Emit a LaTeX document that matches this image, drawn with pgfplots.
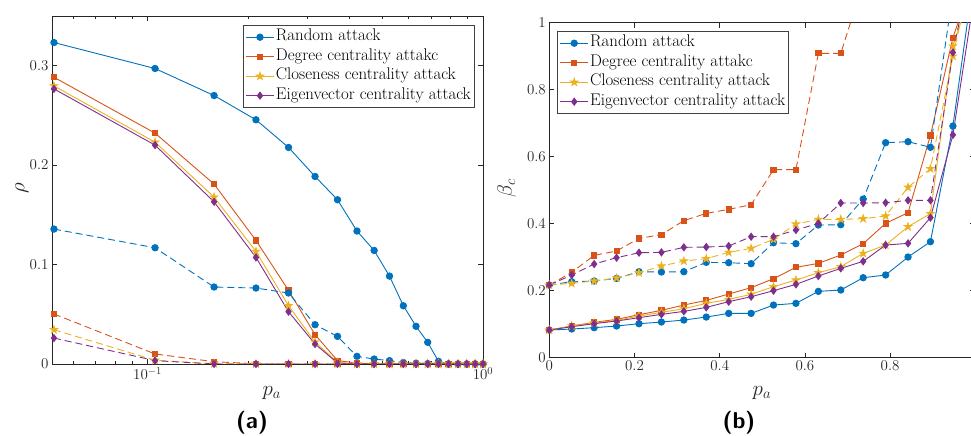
\RequirePackage{fix-cm}
\documentclass[border=0pt]{standalone}
\usepackage{pgfplots}
\usepackage{pgfplotstable}
\pgfplotsset{compat=1.18}

\definecolor{mblue}{rgb}{0,0.447,0.741}
\definecolor{morange}{rgb}{0.850,0.325,0.098}
\definecolor{myellow}{rgb}{0.929,0.694,0.125}
\definecolor{mpurple}{rgb}{0.494,0.184,0.556}

\pgfdeclareplotmark{pent*}{%
  \pgfpathmoveto{\pgfpointpolar{90}{\pgfplotmarksize}}%
  \pgfpathlineto{\pgfpointpolar{126}{0.382\pgfplotmarksize}}%
  \pgfpathlineto{\pgfpointpolar{162}{\pgfplotmarksize}}%
  \pgfpathlineto{\pgfpointpolar{198}{0.382\pgfplotmarksize}}%
  \pgfpathlineto{\pgfpointpolar{234}{\pgfplotmarksize}}%
  \pgfpathlineto{\pgfpointpolar{270}{0.382\pgfplotmarksize}}%
  \pgfpathlineto{\pgfpointpolar{306}{\pgfplotmarksize}}%
  \pgfpathlineto{\pgfpointpolar{342}{0.382\pgfplotmarksize}}%
  \pgfpathlineto{\pgfpointpolar{18}{\pgfplotmarksize}}%
  \pgfpathlineto{\pgfpointpolar{54}{0.382\pgfplotmarksize}}%
  \pgfpathclose
  \pgfusepathqfillstroke}

% panel (a): x = k/19, k = 1..19
\pgfplotstableread{
x      rs     rd     ds     dd     cs     cd     es     ed
0.0526 0.3233 0.1357 0.2884 0.0503 0.2797 0.0345 0.2767 0.0261
0.1053 0.2972 0.1169 0.2322 0.0101 0.2231 0.0037 0.2201 0.0034
0.1579 0.2700 0.0774 0.1809 0.0023 0.1678 0.0003 0.1631 0
0.2105 0.2456 0.0764 0.1243 0.0003 0.1132 0      0.1072 0
0.2632 0.2178 0.0714 0.0740 0      0.0586 0      0.0526 0
0.3158 0.1886 0.0395 0.0295 0      0.0220 0      0.0201 0
0.3684 0.1652 0.0278 0.0034 0      0.0017 0      0.0010 0
0.4211 0.1337 0.0077 0.0010 0      0      0      0      0
0.4737 0.1142 0.0050 0      0      0      0      0      0
0.5263 0.0884 0.0034 0      0      0      0      0      0
0.5789 0.0586 0.0015 0      0      0      0      0      0
0.6316 0.0379 0.0008 0      0      0      0      0      0
0.6842 0.0218 0.0004 0      0      0      0      0      0
0.7368 0.0027 0.0002 0      0      0      0      0      0
0.7895 0      0      0      0      0      0      0      0
0.8421 0      0      0      0      0      0      0      0
0.8947 0      0      0      0      0      0      0      0
0.9474 0      0      0      0      0      0      0      0
1.0000 0      0      0      0      0      0      0      0
}\tA

% panel (b): x = k/19, k = 0..19
\pgfplotstableread{
x      rs     rd     ds     dd     cs     cd     es     ed
0.0000 0.0826 0.2169 0.0826 0.2169 0.0826 0.2169 0.0826 0.2169
0.0526 0.0856 0.2269 0.0945 0.2547 0.0945 0.2219 0.0925 0.2468
0.1053 0.0896 0.2289 0.1055 0.3055 0.1035 0.2289 0.1015 0.2796
0.1579 0.0945 0.2368 0.1144 0.3184 0.1114 0.2378 0.1095 0.2985
0.2105 0.1015 0.2567 0.1284 0.3562 0.1244 0.2537 0.1194 0.3134
0.2632 0.1065 0.2557 0.1413 0.3672 0.1353 0.2736 0.1294 0.3144
0.3158 0.1124 0.2567 0.1572 0.4090 0.1463 0.2886 0.1383 0.3294
0.3684 0.1214 0.2846 0.1711 0.4308 0.1622 0.2955 0.1502 0.3303
0.4211 0.1323 0.2836 0.1900 0.4428 0.1741 0.3144 0.1672 0.3333
0.4737 0.1323 0.2806 0.2090 0.4567 0.1891 0.3264 0.1821 0.3612
0.5263 0.1572 0.3433 0.2358 0.5612 0.2119 0.3532 0.2000 0.3612
0.5789 0.1622 0.3403 0.2697 0.5612 0.2318 0.3990 0.2189 0.3811
0.6316 0.1980 0.3960 0.2816 0.9085 0.2537 0.4129 0.2438 0.4010
0.6842 0.2020 0.3970 0.3065 0.9085 0.2716 0.4129 0.2667 0.4617
0.7368 0.2388 0.4736 0.3403 1.1200 0.3114 0.4149 0.2876 0.4617
0.7895 0.2468 0.6418 0.4010 1.3000 0.3363 0.4229 0.3363 0.4627
0.8421 0.3005 0.6448 0.4328 1.4000 0.3910 0.5087 0.3413 0.4697
0.8947 0.3463 0.6280 0.6637 1.5000 0.4300 0.5640 0.4180 0.4697
0.9474 0.6915 1.0900 0.9552 1.6000 0.9300 0.9000 0.6650 0.9110
1.0000 1.1700 1.5000 1.1500 1.7000 1.1300 1.2000 1.1000 1.2300
}\tB

\pgfplotsset{
  base/.style={
    scale only axis, anchor=south west,
    axis line style={black!85, line width=0.7pt},
    tick style={black!85, line width=0.6pt},
    major tick length=5pt, minor tick length=3pt,
    tick align=inside,
    tick label style={font=\fontsize{15}{18}\selectfont, color=black!85},
    label style={font=\fontsize{21}{24}\selectfont, color=black!85},
    legend style={draw=black!75, line width=0.8pt, fill=white,
      font=\fontsize{16.9}{18}\selectfont, inner sep=2pt,
      nodes={inner sep=1.5pt, text height=12pt, text depth=4.5pt},
      cells={anchor=west}},
    legend image code/.code={\draw[mark repeat=2,mark phase=2,##1] plot coordinates {(0pt,0pt) (14pt,0pt) (28pt,0pt)};},
  },
  sR/.style={color=mblue, line width=0.9pt, mark=*, mark size=3.2pt, mark options={solid}},
  sD/.style={color=morange, line width=0.9pt, mark=square*, mark size=2.6pt, mark options={solid}},
  sC/.style={color=myellow, line width=0.9pt, mark=pent*, mark size=3.8pt, mark options={solid}},
  sE/.style={color=mpurple, line width=0.9pt, mark=diamond*, mark size=3.5pt, mark options={solid}},
  dsh/.style={dash pattern=on 7pt off 4pt},
}

\begin{document}
\begin{tikzpicture}
\begin{axis}[base,
  at={(52pt,72pt)}, width=431pt, height=348pt,
  xmode=log, xmin=0.0519, xmax=1, ymin=0, ymax=0.35,
  xtick={0.1,1},
  minor xtick={0.06,0.07,0.08,0.09,0.2,0.3,0.4,0.5,0.6,0.7,0.8,0.9},
  ytick={0,0.1,0.2,0.3},
  xlabel={$p_a$}, ylabel={$\rho$},
  xlabel style={at={(axis description cs:0.51,-0.083)}, anchor=center},
  ylabel style={at={(axis description cs:-0.07,0.506)}, anchor=center},
  legend style={at={(axis description cs:0.981,0.974)}, anchor=north east},
]
\addplot[sR] table[x=x,y=rs]{\tA};
\addplot[sD] table[x=x,y=ds]{\tA};
\addplot[sC] table[x=x,y=cs]{\tA};
\addplot[sE] table[x=x,y=es]{\tA};
\legend{Random attack, Degree centrality attakc, Closeness centrality attack, Eigenvector centrality attack}
\addplot[sR,dsh,forget plot] table[x=x,y=rd]{\tA};
\addplot[sD,dsh,forget plot] table[x=x,y=dd]{\tA};
\addplot[sC,dsh,forget plot] table[x=x,y=cd]{\tA};
\addplot[sE,dsh,forget plot] table[x=x,y=ed]{\tA};
\end{axis}

\begin{axis}[base,
  at={(549.3pt,78.3pt)}, width=426pt, height=335pt,
  xmin=0, xmax=1, ymin=0, ymax=1,
  xtick={0,0.2,0.4,0.6,0.8},
  ytick={0,0.2,0.4,0.6,0.8,1},
  xlabel={$p_a$}, ylabel={$\beta_c$},
  xlabel style={at={(axis description cs:0.499,-0.105)}, anchor=center},
  ylabel style={at={(axis description cs:-0.1,0.507)}, anchor=center},
  legend style={at={(axis description cs:0.019,0.975)}, anchor=north west},
]
\addplot[sR] table[x=x,y=rs]{\tB};
\addplot[sD] table[x=x,y=ds]{\tB};
\addplot[sC] table[x=x,y=cs]{\tB};
\addplot[sE] table[x=x,y=es]{\tB};
\legend{Random attack, Degree centrality attakc, Closeness centrality attack, Eigenvector centrality attack}
\addplot[sR,dsh,forget plot] table[x=x,y=rd]{\tB};
\addplot[sD,dsh,forget plot] table[x=x,y=dd]{\tB};
\addplot[sC,dsh,forget plot] table[x=x,y=cd]{\tB};
\addplot[sE,dsh,forget plot] table[x=x,y=ed]{\tB};
\end{axis}

\node[font=\sffamily\bfseries\fontsize{23}{27}\selectfont] at (252pt,13pt) {(a)};
\node[font=\sffamily\bfseries\fontsize{23}{27}\selectfont] at (739pt,13pt) {(b)};

\pgfresetboundingbox
\useasboundingbox (0pt,0pt) rectangle (971pt,436pt);
\end{tikzpicture}
\end{document}
